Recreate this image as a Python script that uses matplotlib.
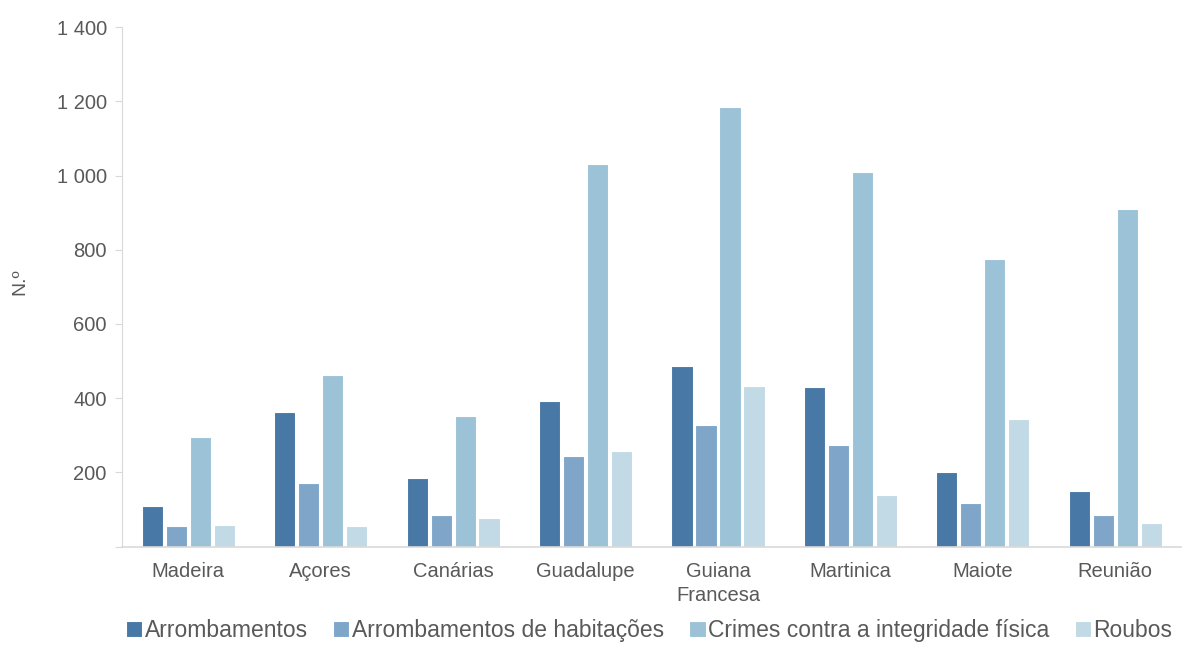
import matplotlib as mpl
mpl.use("Agg")
import matplotlib.pyplot as plt
import matplotlib.ticker as mticker
import numpy as np

plt.rcParams['font.family'] = ['Liberation Sans', 'DejaVu Sans']

regioes = ["Madeira", "Açores", "Canárias", "Guadalupe", "Guiana\nFrancesa",
           "Martinica", "Maiote", "Reunião"]
series = ["Arrombamentos", "Arrombamentos de habitações",
          "Crimes contra a integridade física", "Roubos"]
arrombamentos = [110, 362, 184, 392, 488, 430, 202, 151]
arromb_habitacoes = [54, 170, 85, 245, 327, 273, 116, 85]
crimes_integridade = [296, 462, 352, 1032, 1185, 1009, 775, 909]
roubos = [59, 54, 78, 258, 434, 138, 344, 63]
cores = ["#4878a6", "#7fa6c8", "#9bc2d6", "#c2dae6"]

valores = [arrombamentos, arromb_habitacoes, crimes_integridade, roubos]
cinza = "#595959"

fig = plt.figure(figsize=(11.85, 6.45), dpi=100)
ax = fig.add_axes([0.103, 0.1527, 0.894, 0.805])

x = np.arange(len(regioes))
passo = 0.181
largura = 0.16
for i, (nome, vals, cor) in enumerate(zip(series, valores, cores)):
    ax.bar(x + (i - 1.5) * passo, vals, width=largura, color=cor,
           edgecolor="white", linewidth=0.8, label=nome)

ax.set_xlim(-0.5, len(regioes) - 0.5)
ax.set_ylim(0, 1400)
ax.set_yticks(range(0, 1401, 200))
ax.yaxis.set_major_formatter(mticker.FuncFormatter(
    lambda v, p: "" if v == 0 else f"{int(v):,}".replace(",", " ")))
ax.set_xticks(x)
ax.set_xticklabels(regioes, linespacing=1.35)
ax.tick_params(axis="x", length=0, pad=11, labelsize=14.5, labelcolor=cinza)
ax.tick_params(axis="y", length=5, color="#d9d9d9", pad=6, labelsize=14.5, labelcolor=cinza)
for s in ["top", "right"]:
    ax.spines[s].set_visible(False)
ax.spines["left"].set_color("#d9d9d9")
ax.spines["bottom"].set_color("#d9d9d9")
ax.spines["bottom"].set_linewidth(1.2)

fig.text(0.017, 0.564, "N.º", rotation=90, ha="center", va="center",
         fontsize=14, color=cinza)

fig.legend(loc="center", bbox_to_anchor=(0.548, 0.022), ncol=4, frameon=False,
           fontsize=16.5, handlelength=0.7, handleheight=0.7,
           handletextpad=0.12, columnspacing=1.1, labelcolor=cinza,
           borderaxespad=0)

fig.savefig("out.png", dpi=100)
